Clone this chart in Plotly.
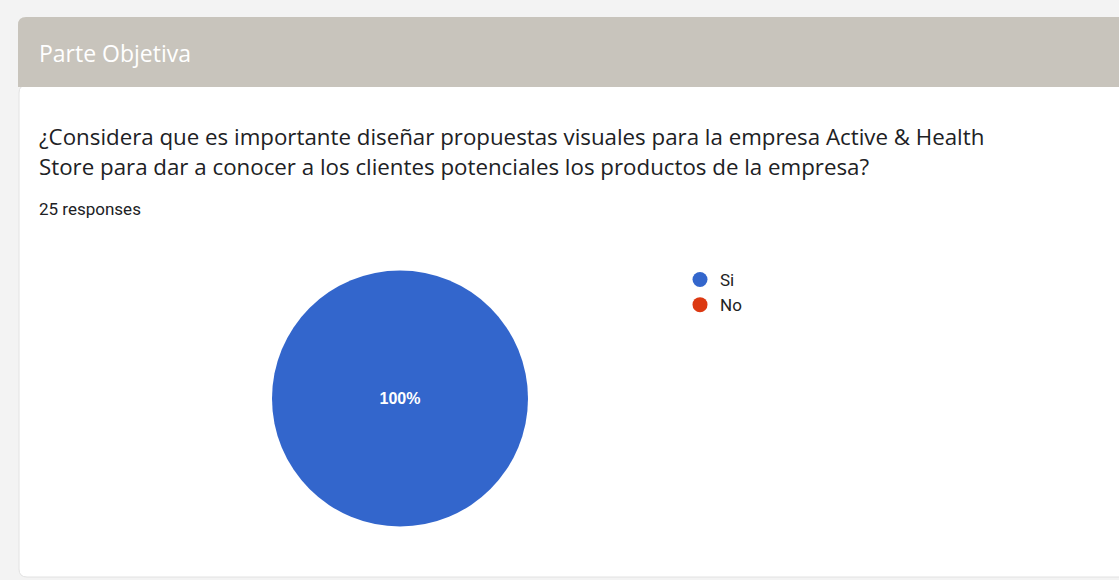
import plotly.graph_objects as go

# Survey answers
categories = ["Si", "No"]
responses = [25, 0]
colors = ["#3366cc", "#dc3912"]

section_title = "Parte Objetiva"
question_lines = [
    "¿Considera que es importante diseñar propuestas visuales para la empresa Active & Health",
    "Store para dar a conocer a los clientes potenciales los productos de la empresa?",
]
total_label = f"{sum(responses)} responses"

W, H = 1119, 580


def px(x):
    return x / W


def py(y):
    return 1 - y / H


def rounded_rect(x0, y0, x1, y1, r_top, r_bottom):
    # path in pixel space (y downward) converted to paper coords
    pts = []
    pts.append(f"M {px(x0 + r_top)},{py(y0)}")
    pts.append(f"L {px(x1 - r_top)},{py(y0)}")
    pts.append(f"Q {px(x1)},{py(y0)} {px(x1)},{py(y0 + r_top)}")
    pts.append(f"L {px(x1)},{py(y1 - r_bottom)}")
    pts.append(f"Q {px(x1)},{py(y1)} {px(x1 - r_bottom)},{py(y1)}")
    pts.append(f"L {px(x0 + r_bottom)},{py(y1)}")
    pts.append(f"Q {px(x0)},{py(y1)} {px(x0)},{py(y1 - r_bottom)}")
    pts.append(f"L {px(x0)},{py(y0 + r_top)}")
    pts.append(f"Q {px(x0)},{py(y0)} {px(x0 + r_top)},{py(y0)}")
    pts.append("Z")
    return " ".join(pts)


fig = go.Figure()

fig.add_trace(go.Pie(
    labels=categories,
    values=responses,
    marker=dict(colors=colors, line=dict(width=0)),
    textinfo="percent",
    texttemplate=["<b>%{percent:.0%}</b>", ""],
    textposition="inside",
    insidetextfont=dict(color="white", size=16, family="Arial"),
    insidetextorientation="horizontal",
    sort=False,
    direction="clockwise",
    showlegend=False,
    hoverinfo="label+value+percent",
    domain=dict(x=[px(272), px(528)], y=[py(527), py(270)]),
))

# Legend entries with round markers
for name, col in zip(categories, colors):
    fig.add_trace(go.Scatter(
        x=[None], y=[None], mode="markers", name=name,
        marker=dict(color=col, size=15, symbol="circle"),
        xaxis="x", yaxis="y",
    ))

shapes = [
    # white card
    dict(type="path", xref="paper", yref="paper",
         path=rounded_rect(19, 85, 1135, 577, 8, 8),
         fillcolor="#ffffff", line=dict(color="#e2e2e2", width=1), layer="below"),
    # section header
    dict(type="path", xref="paper", yref="paper",
         path=rounded_rect(18, 17, 1135, 87, 8, 0),
         fillcolor="#c8c4bc", line=dict(width=0), layer="below"),
]

annotations = [
    dict(text=section_title, x=px(37), y=py(53), xref="paper", yref="paper",
         xanchor="left", yanchor="middle", showarrow=False,
         font=dict(family="Open Sans", size=23, color="#ffffff")),
    dict(text=question_lines[0], x=px(37), y=py(137), xref="paper", yref="paper",
         xanchor="left", yanchor="middle", showarrow=False,
         font=dict(family="Open Sans", size=22.3, color="#202124")),
    dict(text=question_lines[1], x=px(37), y=py(167), xref="paper", yref="paper",
         xanchor="left", yanchor="middle", showarrow=False,
         font=dict(family="Open Sans", size=22.3, color="#202124")),
    dict(text=total_label, x=px(37), y=py(209), xref="paper", yref="paper",
         xanchor="left", yanchor="middle", showarrow=False,
         font=dict(family="Roboto", size=17, color="#202124")),
]

fig.update_layout(
    width=W, height=H,
    margin=dict(l=0, r=0, t=0, b=0),
    paper_bgcolor="#f3f3f3",
    plot_bgcolor="rgba(0,0,0,0)",
    shapes=shapes,
    annotations=annotations,
    xaxis=dict(visible=False, domain=[0, 0.01]),
    yaxis=dict(visible=False, domain=[0, 0.01]),
    legend=dict(x=px(680), y=py(262), xanchor="left", yanchor="top",
                bgcolor="rgba(0,0,0,0)", font=dict(family="Roboto", size=17, color="#222222"),
                itemwidth=30, tracegroupgap=0),
    showlegend=True,
)

fig.write_html("out.html")
